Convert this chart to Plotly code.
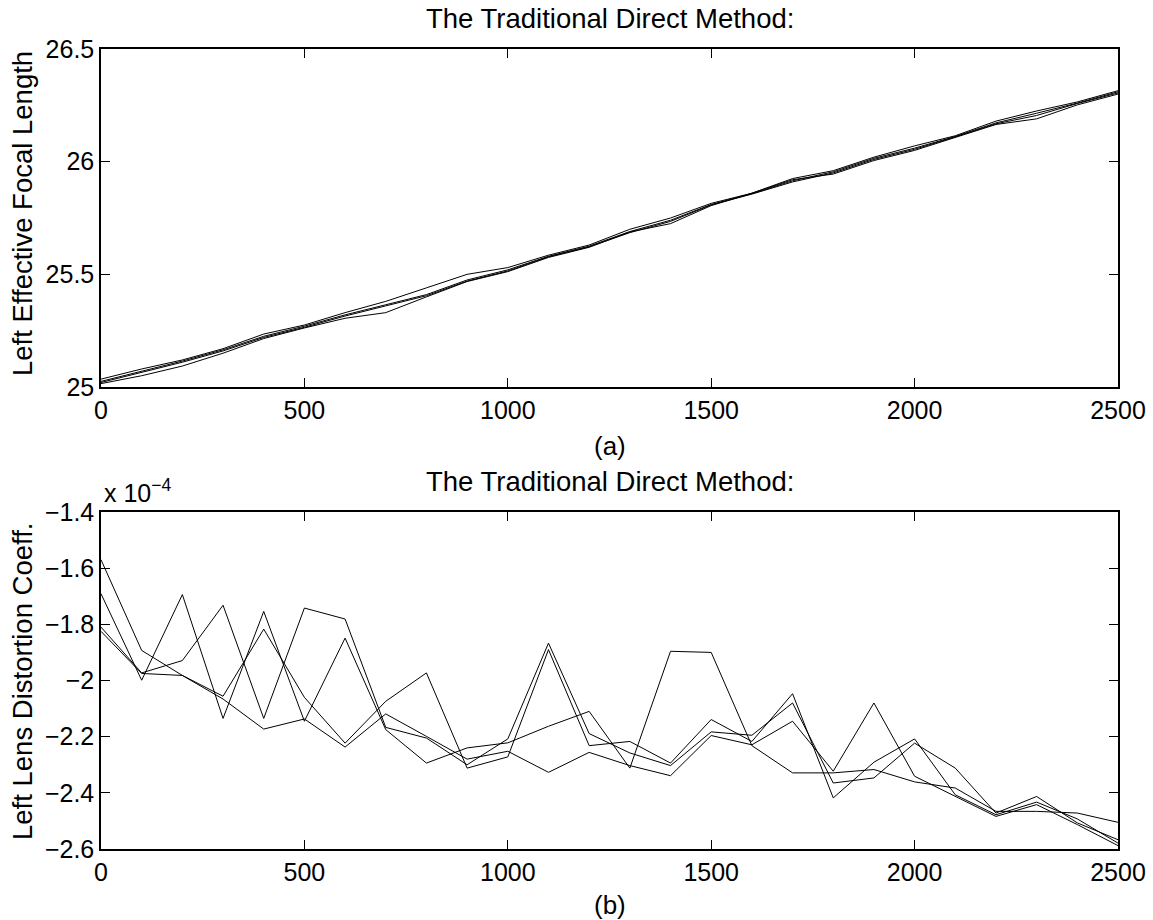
import plotly.graph_objects as go

# ---------------- data ----------------
x_vals = [0, 100, 200, 300, 400, 500, 600, 700, 800, 900, 1000, 1100, 1200,
          1300, 1400, 1500, 1600, 1700, 1800, 1900, 2000, 2100, 2200, 2300, 2400, 2500]

# (a) Left effective focal length, four runs
focal_1 = [25.035, 25.080, 25.120, 25.170, 25.235, 25.275, 25.330, 25.380, 25.440, 25.500,
           25.530, 25.585, 25.630, 25.700, 25.750, 25.815, 25.860, 25.925, 25.960, 26.020,
           26.070, 26.115, 26.180, 26.225, 26.265, 26.315]
focal_2 = [25.025, 25.070, 25.115, 25.165, 25.225, 25.270, 25.320, 25.365, 25.410, 25.475,
           25.520, 25.580, 25.625, 25.690, 25.740, 25.810, 25.858, 25.915, 25.955, 26.015,
           26.060, 26.112, 26.172, 26.215, 26.260, 26.310]
focal_3 = [25.020, 25.065, 25.110, 25.160, 25.220, 25.265, 25.315, 25.360, 25.405, 25.470,
           25.515, 25.578, 25.622, 25.685, 25.735, 25.808, 25.856, 25.910, 25.950, 26.010,
           26.055, 26.110, 26.168, 26.205, 26.258, 26.305]
focal_4 = [25.015, 25.050, 25.093, 25.150, 25.215, 25.262, 25.305, 25.330, 25.400, 25.468,
           25.512, 25.575, 25.620, 25.688, 25.725, 25.805, 25.860, 25.920, 25.945, 26.005,
           26.050, 26.108, 26.165, 26.190, 26.252, 26.300]

# (b) Left lens distortion coefficient, in units of 1e-4
dist_1 = [-1.570, -1.893, -1.982, -2.056, -1.817, -2.060, -2.223, -2.074, -1.973, -2.312,
          -2.272, -1.890, -2.232, -2.217, -2.294, -2.139, -2.217, -2.047, -2.418, -2.291,
          -2.208, -2.407, -2.478, -2.433, -2.493, -2.579]
dist_2 = [-1.691, -1.999, -1.694, -2.135, -1.754, -2.145, -1.849, -2.175, -2.294, -2.240,
          -2.222, -2.163, -2.110, -2.312, -1.896, -1.900, -2.232, -2.329, -2.329, -2.317,
          -2.361, -2.383, -2.466, -2.466, -2.472, -2.505]
dist_3 = [-1.810, -1.973, -1.929, -1.732, -2.135, -1.742, -1.781, -2.167, -2.205, -2.300,
          -2.208, -1.867, -2.189, -2.258, -2.303, -2.183, -2.195, -2.080, -2.365, -2.347,
          -2.223, -2.312, -2.472, -2.413, -2.507, -2.567]
dist_4 = [-1.825, -1.975, -1.982, -2.066, -2.173, -2.137, -2.237, -2.119, -2.199, -2.280,
          -2.252, -2.327, -2.256, -2.303, -2.339, -2.196, -2.229, -2.145, -2.323, -2.080,
          -2.341, -2.413, -2.484, -2.442, -2.513, -2.588]

x_ticks = [0, 500, 1000, 1500, 2000, 2500]
focal_ticks = [25, 25.5, 26, 26.5]
focal_tick_text = ["25", "25.5", "26", "26.5"]
dist_ticks = [-2.6, -2.4, -2.2, -2.0, -1.8, -1.6, -1.4]
dist_tick_text = ["\u22122.6", "\u22122.4", "\u22122.2", "\u22122", "\u22121.8", "\u22121.6", "\u22121.4"]

title_text = "The Traditional Direct Method:"
ylabel_a = "Left Effective Focal Length"
ylabel_b = "Left Lens Distortion Coeff."

# ---------------- figure ----------------
W, H = 1153, 920
FONT = "Liberation Sans, Arial, Helvetica, sans-serif"

fig = go.Figure()
for s in [focal_1, focal_2, focal_3, focal_4]:
    fig.add_trace(go.Scatter(x=x_vals, y=s, mode="lines", xaxis="x", yaxis="y",
                             line=dict(color="black", width=1), showlegend=False,
                             hoverinfo="skip"))
for s in [dist_1, dist_2, dist_3, dist_4]:
    fig.add_trace(go.Scatter(x=x_vals, y=s, mode="lines", xaxis="x2", yaxis="y2",
                             line=dict(color="black", width=1), showlegend=False,
                             hoverinfo="skip"))

x_dom = [101 / W, 1118 / W]
ya_dom = [1 - 387 / H, 1 - 49 / H]
yb_dom = [1 - 849 / H, 1 - 512 / H]

common = dict(showline=True, linecolor="black", linewidth=1.5, mirror="ticks",
              ticks="inside", ticklen=9, tickwidth=1, tickcolor="black",
              showgrid=False, zeroline=False, automargin=False,
              tickfont=dict(family=FONT, size=25, color="black"))

fig.update_layout(
    template="none",
    width=W, height=H,
    margin=dict(l=0, r=0, t=0, b=0, autoexpand=False),
    paper_bgcolor="white", plot_bgcolor="white",
    font=dict(family=FONT, color="black"),
    xaxis=dict(domain=x_dom, anchor="y", range=[0, 2500], tickvals=x_ticks, **common),
    yaxis=dict(domain=ya_dom, anchor="x", range=[25, 26.5], tickvals=focal_ticks,
               ticktext=focal_tick_text, **common),
    xaxis2=dict(domain=x_dom, anchor="y2", range=[0, 2500], tickvals=x_ticks, **common),
    yaxis2=dict(domain=yb_dom, anchor="x2", range=[-2.6, -1.4], tickvals=dist_ticks,
                ticktext=dist_tick_text, **common),
)

xc = (x_dom[0] + x_dom[1]) / 2
ann = [
    dict(text=title_text, x=xc, y=1 - 18 / H, font=dict(size=27.5)),
    dict(text=title_text, x=xc, y=1 - 481 / H, font=dict(size=27.5)),
    dict(text="(a)", x=xc, y=1 - 446 / H, font=dict(size=26)),
    dict(text="(b)", x=xc, y=1 - 905 / H, font=dict(size=26)),
    dict(text=ylabel_a, x=22 / W, y=1 - 214 / H, textangle=-90, font=dict(size=27.5)),
    dict(text=ylabel_b, x=22 / W, y=1 - 682 / H, textangle=-90, font=dict(size=27.5)),
]
annotations = []
for a in ann:
    a.update(xref="paper", yref="paper", showarrow=False, xanchor="center", yanchor="middle")
    annotations.append(a)
annotations.append(dict(text="x 10<sup>\u22124</sup>", x=102 / W, y=1 - 509 / H,
                        xref="paper", yref="paper", showarrow=False,
                        xanchor="left", yanchor="bottom", font=dict(size=25)))
fig.update_layout(annotations=annotations)

fig.write_html("out.html")
